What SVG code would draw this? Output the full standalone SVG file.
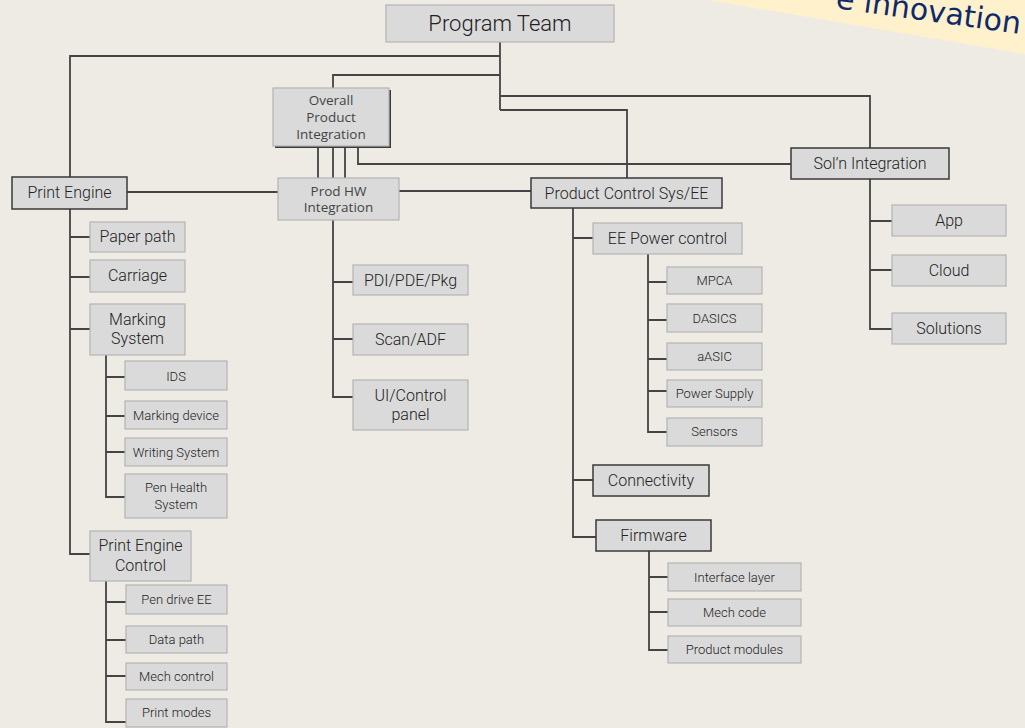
<svg xmlns="http://www.w3.org/2000/svg" width="1025" height="728" viewBox="0 0 1025 728">
  <style>
    .bg { fill: #EEEBE5; }
    .box { fill: #DADADA; stroke: #B4B4B4; stroke-width: 1.2; }
    .dark { fill: #DADADA; stroke: #3A3A3A; stroke-width: 1.5; }
    .t { font-family: Roboto, "Liberation Sans", sans-serif; font-weight: 300; fill: #222222; text-anchor: middle; }
    .t22 { font-size: 22px; }
    .t16 { font-size: 16px; }
    .t13 { font-size: 13px; }
    .os { font-family: "Open Sans", "Noto Sans", sans-serif; font-size: 13.5px; fill: #444444; text-anchor: middle; }
    .wire { fill: none; stroke: #444444; stroke-width: 1.8; }
    .banner-text { font-family: "DejaVu Sans", Verdana, sans-serif; font-size: 30px; fill: #0F2A6B; }
  </style>

  <rect class="bg" x="0" y="0" width="1025" height="728"/>

  <!-- corner banner -->
  <g id="banner">
    <polygon points="707,0 1025,0 1025,54" fill="#FFF1CC"/>
    <text class="banner-text" transform="translate(835,8) rotate(8)">e innovation</text>
  </g>

  <!-- connectors -->
  <g id="connectors" class="wire">
    <path d="M500,42 V110"/>
    <path d="M500,56 H70 V177"/>
    <path d="M500,75 H333 V88"/>
    <path d="M500,96 H870 V148"/>
    <path d="M500,110 H627 V178"/>
    <path d="M318,146 V178 M333,146 V178 M345,146 V178"/>
    <path d="M358,146 V164 H791"/>
    <path d="M127,192 H278"/>
    <path d="M399,191 H531"/>
    <!-- print engine branch -->
    <path d="M70,209 V554 H90 M70,237 H90 M70,277 H90 M70,329 H90"/>
    <path d="M106,355 V497 H125 M106,377 H125 M106,416 H125 M106,452 H125"/>
    <path d="M106,581 V722 H126 M106,602 H126 M106,640 H126 M106,676 H126"/>
    <!-- hardware integration branch -->
    <path d="M333,220 V397 H353 M333,282 H353 M333,339 H353"/>
    <!-- control system branch -->
    <path d="M573,208 V537 H596 M573,238 H593 M573,480 H593"/>
    <path d="M648,254 V432 H667 M648,282 H667 M648,320 H667 M648,359 H667 M648,391 H667"/>
    <path d="M649,551 V650 H668 M649,577 H668 M649,612 H668"/>
    <!-- solution branch -->
    <path d="M870,179 V329 H892 M870,221 H892 M870,270 H892"/>
  </g>

  <g id="program-team">
    <rect class="box" x="386" y="5" width="228" height="37"/>
    <text class="t t22" x="500" y="31">Program Team</text>
  </g>

  <g id="overall-product-integration">
    <path d="M390,90 V147 H275" fill="none" stroke="#3A3A3A" stroke-width="2"/>
    <rect class="box" x="273" y="88" width="116" height="58"/>
    <text class="os" x="331" y="105">Overall</text>
    <text class="os" x="331" y="122">Product</text>
    <text class="os" x="331" y="139">Integration</text>
  </g>

  <g id="prod-hw-integration">
    <rect class="box" x="278" y="178" width="121" height="42"/>
    <text class="os" x="338.5" y="196">Prod HW</text>
    <text class="os" x="338.5" y="212">Integration</text>
  </g>

  <g id="print-engine">
    <rect class="dark" x="12" y="177" width="115" height="32"/>
    <text class="t t16" x="69.5" y="198">Print Engine</text>
  </g>

  <g id="product-control">
    <rect class="dark" x="531" y="178" width="191" height="30"/>
    <text class="t t16" x="626.5" y="199">Product Control Sys/EE</text>
  </g>

  <g id="soln-integration">
    <rect class="dark" x="791" y="148" width="158" height="31"/>
    <text class="t t16" x="870" y="169">Sol’n Integration</text>
  </g>

  <g id="paper-path">
    <rect class="box" x="90" y="222" width="95" height="30"/>
    <text class="t t16" x="137.5" y="242">Paper path</text>
  </g>
  <g id="carriage">
    <rect class="box" x="90" y="260" width="95" height="32"/>
    <text class="t t16" x="137.5" y="281">Carriage</text>
  </g>
  <g id="marking-system">
    <rect class="box" x="90" y="304" width="95" height="51"/>
    <text class="t t16" x="137.5" y="325">Marking</text>
    <text class="t t16" x="137.5" y="344">System</text>
  </g>
  <g id="ids">
    <rect class="box" x="125" y="361" width="102" height="29"/>
    <text class="t t13" x="176" y="381">IDS</text>
  </g>
  <g id="marking-device">
    <rect class="box" x="125" y="401" width="102" height="28"/>
    <text class="t t13" x="176" y="420">Marking device</text>
  </g>
  <g id="writing-system">
    <rect class="box" x="125" y="438" width="102" height="28"/>
    <text class="t t13" x="176" y="457">Writing System</text>
  </g>
  <g id="pen-health">
    <rect class="box" x="125" y="474" width="102" height="44"/>
    <text class="t t13" x="176" y="492">Pen Health</text>
    <text class="t t13" x="176" y="509">System</text>
  </g>
  <g id="print-engine-control">
    <rect class="box" x="90" y="531" width="101" height="50"/>
    <text class="t t16" x="140.5" y="551">Print Engine</text>
    <text class="t t16" x="140.5" y="571">Control</text>
  </g>
  <g id="pen-drive">
    <rect class="box" x="126" y="585" width="101" height="29"/>
    <text class="t t13" x="176.5" y="604">Pen drive EE</text>
  </g>
  <g id="data-path">
    <rect class="box" x="126" y="626" width="101" height="27"/>
    <text class="t t13" x="176.5" y="644">Data path</text>
  </g>
  <g id="mech-control">
    <rect class="box" x="126" y="663" width="101" height="27"/>
    <text class="t t13" x="176.5" y="681">Mech control</text>
  </g>
  <g id="print-modes">
    <rect class="box" x="126" y="699" width="101" height="28"/>
    <text class="t t13" x="176.5" y="717">Print modes</text>
  </g>

  <g id="pdi-pde-pkg">
    <rect class="box" x="353" y="265" width="115" height="30"/>
    <text class="t t16" x="410.5" y="286">PDI/PDE/Pkg</text>
  </g>
  <g id="scan-adf">
    <rect class="box" x="353" y="324" width="115" height="31"/>
    <text class="t t16" x="410.5" y="345">Scan/ADF</text>
  </g>
  <g id="ui-control-panel">
    <rect class="box" x="353" y="380" width="115" height="50"/>
    <text class="t t16" x="410.5" y="401">UI/Control</text>
    <text class="t t16" x="410.5" y="420">panel</text>
  </g>

  <g id="ee-power-control">
    <rect class="box" x="593" y="223" width="149" height="31"/>
    <text class="t t16" x="667.5" y="244">EE Power control</text>
  </g>
  <g id="mpca">
    <rect class="box" x="667" y="267" width="95" height="27"/>
    <text class="t t13" x="714.5" y="285">MPCA</text>
  </g>
  <g id="dasics">
    <rect class="box" x="667" y="304" width="95" height="28"/>
    <text class="t t13" x="714.5" y="323">DASICS</text>
  </g>
  <g id="aasic">
    <rect class="box" x="667" y="343" width="95" height="27"/>
    <text class="t t13" x="714.5" y="361">aASIC</text>
  </g>
  <g id="power-supply">
    <rect class="box" x="667" y="380" width="95" height="27"/>
    <text class="t t13" x="714.5" y="398">Power Supply</text>
  </g>
  <g id="sensors">
    <rect class="box" x="667" y="418" width="95" height="28"/>
    <text class="t t13" x="714.5" y="436">Sensors</text>
  </g>
  <g id="connectivity">
    <rect class="dark" x="593" y="465" width="116" height="31"/>
    <text class="t t16" x="651" y="486">Connectivity</text>
  </g>
  <g id="firmware">
    <rect class="dark" x="596" y="520" width="115" height="31"/>
    <text class="t t16" x="653.5" y="541">Firmware</text>
  </g>
  <g id="interface-layer">
    <rect class="box" x="668" y="563" width="133" height="28"/>
    <text class="t t13" x="734.5" y="582">Interface layer</text>
  </g>
  <g id="mech-code">
    <rect class="box" x="668" y="599" width="133" height="27"/>
    <text class="t t13" x="734.5" y="617">Mech code</text>
  </g>
  <g id="product-modules">
    <rect class="box" x="668" y="636" width="133" height="27"/>
    <text class="t t13" x="734.5" y="654">Product modules</text>
  </g>

  <g id="app">
    <rect class="box" x="892" y="205" width="114" height="31"/>
    <text class="t t16" x="949" y="226">App</text>
  </g>
  <g id="cloud">
    <rect class="box" x="892" y="255" width="114" height="31"/>
    <text class="t t16" x="949" y="276">Cloud</text>
  </g>
  <g id="solutions">
    <rect class="box" x="892" y="313" width="114" height="31"/>
    <text class="t t16" x="949" y="334">Solutions</text>
  </g>
</svg>
